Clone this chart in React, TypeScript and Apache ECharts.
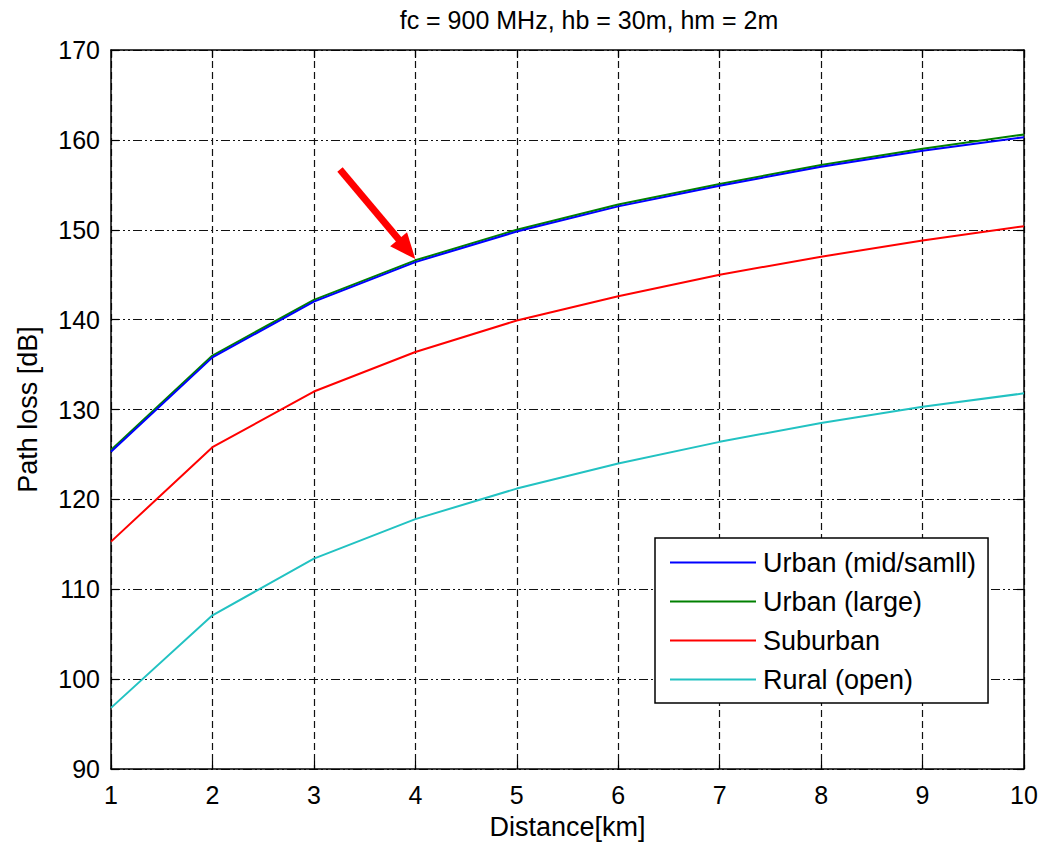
import React, { useEffect, useRef } from "react";
import * as echarts from "echarts";

const distances = [1, 2, 3, 4, 5, 6, 7, 8, 9, 10];
const urbanSmall = [125.3, 135.8, 142.0, 146.4, 149.8, 152.6, 154.9, 157.0, 158.8, 160.3];
const urbanLarge = [125.5, 136.0, 142.2, 146.6, 150.0, 152.8, 155.1, 157.2, 159.0, 160.6];
const suburban = [115.3, 125.8, 132.0, 136.4, 139.9, 142.6, 145.0, 147.0, 148.8, 150.4];
const rural = [96.8, 107.1, 113.4, 117.8, 121.2, 124.0, 126.4, 128.5, 130.3, 131.8];
const seriesNames = ["Urban (mid/samll)", "Urban (large)", "Suburban", "Rural (open)"];
const seriesColors = ["#0000ff", "#008000", "#ff0000", "#22c2c2"];
const titleText = "fc = 900 MHz, hb = 30m, hm = 2m";
const arrowTarget = [4, 146.4];

const FONT = "'Liberation Sans', Arial, sans-serif";

export default function App() {
  const ref = useRef<HTMLDivElement>(null);
  useEffect(() => {
    if (!ref.current) return;
    const chart = echarts.init(ref.current, undefined, { renderer: "svg" });
    const allData = [urbanSmall, urbanLarge, suburban, rural];
    const tickStyle = { show: true, inside: true, length: 8, lineStyle: { color: "#000", width: 1.2 } };
    chart.setOption({
      animation: false,
      backgroundColor: "#fff",
      textStyle: { fontFamily: FONT },
      title: {
        text: titleText,
        left: 584,
        top: 2,
        textAlign: "center",
        textStyle: { fontSize: 25, fontWeight: "normal", color: "#000", fontFamily: FONT },
      },
      grid: { left: 111, right: 17, top: 50, bottom: 75 },
      legend: {
        orient: "vertical",
        left: 655,
        top: 538,
        data: seriesNames,
        icon: "rect",
        itemWidth: 86,
        itemHeight: 2,
        itemGap: 12,
        padding: [11, 12, 10, 15],
        borderColor: "#000",
        borderWidth: 1.5,
        backgroundColor: "#fff",
        textStyle: { fontSize: 27, color: "#000", fontFamily: FONT, padding: [0, 0, 0, 2] },
      },
      xAxis: [
        {
          type: "value",
          min: 1,
          max: 10,
          interval: 1,
          name: "Distance[km]",
          nameLocation: "middle",
          nameGap: 44,
          nameTextStyle: { fontSize: 27, color: "#000", fontFamily: FONT },
          axisLine: { show: true, onZero: false, lineStyle: { color: "#000", width: 1.5 } },
          axisTick: tickStyle,
          axisLabel: { fontSize: 25, color: "#000", margin: 13, fontFamily: FONT },
          splitLine: { show: true, lineStyle: { color: "#111", width: 1.2, type: [7, 4] } },
        },
        {
          type: "value",
          position: "top",
          min: 1,
          max: 10,
          interval: 1,
          axisLine: { show: true, onZero: false, lineStyle: { color: "#000", width: 1.5 } },
          axisTick: tickStyle,
          axisLabel: { show: false },
          splitLine: { show: false },
        },
      ],
      yAxis: [
        {
          type: "value",
          min: 90,
          max: 170,
          interval: 10,
          name: "Path loss [dB]",
          nameLocation: "middle",
          nameGap: 70,
          nameTextStyle: { fontSize: 27, color: "#000", fontFamily: FONT },
          axisLine: { show: true, onZero: false, lineStyle: { color: "#000", width: 1.5 } },
          axisTick: tickStyle,
          axisLabel: { fontSize: 25, color: "#000", margin: 11, fontFamily: FONT },
          splitLine: { show: true, lineStyle: { color: "#111", width: 1.2, type: [9, 3, 2, 3, 2, 3] } },
        },
        {
          type: "value",
          position: "right",
          min: 90,
          max: 170,
          interval: 10,
          axisLine: { show: true, onZero: false, lineStyle: { color: "#000", width: 1.5 } },
          axisTick: tickStyle,
          axisLabel: { show: false },
          splitLine: { show: false },
        },
      ],
      series: seriesNames.map((name, i) => ({
        name,
        type: "line",
        data: distances.map((d, j) => [d, allData[i][j]]),
        showSymbol: false,
        symbol: "none",
        color: seriesColors[i],
        lineStyle: { color: seriesColors[i], width: 2 },
        z: 5 - i,
      })),
    });

    const tip = chart.convertToPixel({ gridIndex: 0 }, arrowTarget) as number[];
    const tx = tip[0];
    const ty = tip[1] - 3;
    const dx = 0.644, dy = 0.765;
    const headLen = 26, headHalf = 11, shaftLen = 117;
    const bx = tx - dx * headLen, by = ty - dy * headLen;
    const px = dy * headHalf, py = -dx * headHalf;
    chart.setOption({
      graphic: [
        {
          type: "line",
          shape: { x1: tx - dx * shaftLen, y1: ty - dy * shaftLen, x2: bx + dx * 2, y2: by + dy * 2 },
          style: { stroke: "#ff0000", lineWidth: 7 },
          z: 100,
        },
        {
          type: "polygon",
          shape: { points: [[tx, ty], [bx + px, by + py], [bx - px, by - py]] },
          style: { fill: "#ff0000" },
          z: 100,
        },
      ],
    });

    return () => chart.dispose();
  }, []);
  return (
    <div
      ref={ref}
      style={{ position: "absolute", left: 0, top: 0, width: 1041, height: 845 }}
    />
  );
}
